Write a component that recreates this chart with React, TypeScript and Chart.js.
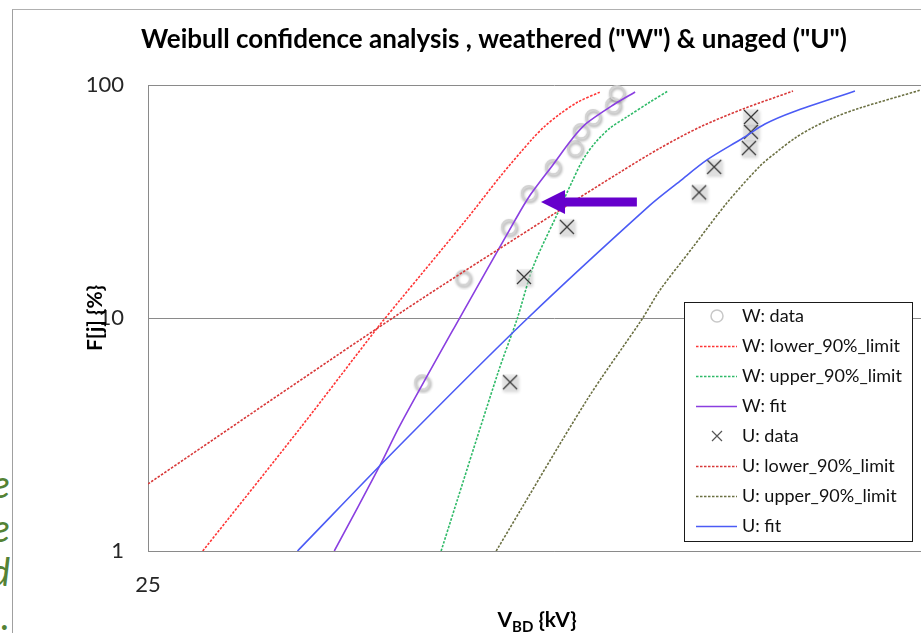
import React, { useEffect, useRef } from 'react';
import { Chart, registerables } from 'chart.js';

Chart.register(...registerables);

// ---------- text ----------
const TITLE = 'Weibull confidence analysis , weathered ("W") & unaged ("U")';
const Y_TITLE = 'F[j] {%}';
const X_TITLE_MAIN = 'V';
const X_TITLE_SUB = 'BD';
const X_TITLE_UNIT = ' {kV}';
const SIDE_TEXT = ['e', 'e', 'd', '.'];

// ---------- axes ----------
const X_MIN = 25;
const X_MAX = 250;
const Y_MIN = 1;
const Y_MAX = 100;
const X_TICKS = [25];
const Y_TICKS = [1, 10, 100];

// ---------- data (kV, %) ----------
const wDataX = [54.4, 61.1, 69.6, 73.6, 78.8, 83.9, 85.3, 88.3, 93.5, 94.5];
const wDataY = [5.3, 14.9, 24.6, 34.4, 44.5, 53.6, 63.5, 72.9, 82.1, 92.4];

const wLowerX = [29.2, 38.5, 47.9, 51.1, 61.9, 67.8, 74.5, 77.1, 80.4, 84.6, 90.1];
const wLowerY = [1, 3.37, 9.06, 11.95, 26.9, 40.3, 59.2, 66.7, 75.1, 84.5, 93.3];

const wUpperX = [57.4, 67.5, 71.2, 74.5, 79.7, 83.4, 85.8, 88.8, 92.7, 97.2, 103.8, 109.2];
const wUpperY = [1, 5.87, 9.9, 16.55, 27.7, 39.1, 47.7, 56.4, 65.4, 72.9, 84.5, 94.2];

const wFitX = [42.4, 48.3, 51.1, 60.4, 70.8, 73.9, 78.8, 83.4, 86.8, 93.5, 99.5];
const wFitY = [1, 2.34, 3.47, 9.9, 26.3, 33.7, 45.4, 59.2, 68.7, 82.1, 93.3];

const uDataX = [69.8, 72.6, 82.0, 119.3, 124.5, 137.4, 138.2, 138.2];
const uDataY = [5.3, 15.0, 24.6, 34.6, 44.5, 53.6, 63.0, 72.9];

const uLowerX = [25, 51.1, 79.7, 95.4, 106.8, 119.6, 135.1, 155.7];
const uLowerY = [1.94, 10.5, 28.5, 42.3, 53.6, 66.0, 78.9, 94.2];

const uUpperX = [67.1, 86.8, 101.5, 106.8, 117.3, 129.1, 141.8, 149.2, 156.6, 164.3, 175.5, 188.3, 223.8];
const uUpperY = [1, 4.45, 9.9, 13.19, 20.2, 31.2, 44.9, 52.1, 59.2, 65.4, 72.9, 79.7, 95.2];

const uFitX = [38.2, 51.1, 73.2, 103.8, 113.0, 122.0, 135.1, 143.8, 155.7, 185.6];
const uFitY = [1, 2.85, 9.9, 30.5, 38.7, 47.7, 59.2, 68.0, 76.6, 94.2];

// arrow annotation (data coordinates)
const ARROW_FROM = { x: 100.0, y: 31.5 };
const ARROW_TO = { x: 76.2, y: 31.5 };

// ---------- styles ----------
const FONT = 'Lato, "Open Sans", sans-serif';
const AXIS_COLOR = '#8a8a8a';
const TICK_COLOR = '#262626';

const toPts = (xs: number[], ys: number[]) => xs.map((x, i) => ({ x, y: ys[i] }));

function makeCircleMarker(): HTMLCanvasElement {
  const c = document.createElement('canvas');
  c.width = 24;
  c.height = 24;
  const g = c.getContext('2d')!;
  g.beginPath();
  g.arc(12, 12, 7.2, 0, Math.PI * 2);
  g.fillStyle = 'rgba(255,255,255,0.35)';
  g.fill();
  g.shadowColor = 'rgba(0,0,0,0.45)';
  g.shadowBlur = 3;
  g.shadowOffsetX = 1;
  g.shadowOffsetY = 2;
  g.lineWidth = 1.8;
  g.strokeStyle = '#d2d2d2';
  g.stroke();
  return c;
}

function makeCrossMarker(): HTMLCanvasElement {
  const c = document.createElement('canvas');
  c.width = 26;
  c.height = 26;
  const g = c.getContext('2d')!;
  g.save();
  g.shadowColor = 'rgba(0,0,0,0.3)';
  g.shadowBlur = 3;
  g.shadowOffsetX = 1;
  g.shadowOffsetY = 2;
  g.fillStyle = 'rgba(228,228,228,0.5)';
  g.fillRect(5, 5, 16, 16);
  g.restore();
  g.beginPath();
  g.moveTo(6, 6);
  g.lineTo(20, 20);
  g.moveTo(20, 6);
  g.lineTo(6, 20);
  g.lineWidth = 1.3;
  g.strokeStyle = '#3a3a3a';
  g.stroke();
  return c;
}

const overlayPlugin = {
  id: 'overlay',
  afterDatasetsDraw(chart: any) {
    const { ctx } = chart;
    const xs = chart.scales.x;
    const ys = chart.scales.y;
    const x0 = xs.getPixelForValue(ARROW_FROM.x);
    const y0 = ys.getPixelForValue(ARROW_FROM.y);
    const x1 = xs.getPixelForValue(ARROW_TO.x);
    const y1 = ys.getPixelForValue(ARROW_TO.y);
    const ang = Math.atan2(y1 - y0, x1 - x0);
    const len = Math.hypot(x1 - x0, y1 - y0);
    const headLen = 24;
    const headHalf = 12;
    const shaftHalf = 4.5;
    ctx.save();
    ctx.translate(x1, y1);
    ctx.rotate(ang);
    ctx.beginPath();
    ctx.moveTo(0, 0);
    ctx.lineTo(-headLen, -headHalf);
    ctx.lineTo(-headLen, -shaftHalf);
    ctx.lineTo(-len, -shaftHalf);
    ctx.lineTo(-len, shaftHalf);
    ctx.lineTo(-headLen, shaftHalf);
    ctx.lineTo(-headLen, headHalf);
    ctx.closePath();
    ctx.fillStyle = '#6600cc';
    ctx.fill();
    ctx.restore();
  },
  afterDraw(chart: any) {
    const { ctx, chartArea } = chart;
    ctx.save();
    // title
    ctx.fillStyle = '#000';
    ctx.font = `bold 26px ${FONT}`;
    ctx.textAlign = 'center';
    ctx.textBaseline = 'middle';
    ctx.fillText(TITLE, 481, 30);

    // y title
    ctx.save();
    ctx.translate(82, (chartArea.top + chartArea.bottom) / 2);
    ctx.rotate(-Math.PI / 2);
    ctx.font = `bold 21px ${FONT}`;
    ctx.textAlign = 'center';
    ctx.textBaseline = 'middle';
    ctx.fillText(Y_TITLE, 0, 0);
    ctx.restore();

    // x title with subscript
    const mainFont = `bold 21px ${FONT}`;
    const subFont = `bold 15px ${FONT}`;
    ctx.font = mainFont;
    const wV = ctx.measureText(X_TITLE_MAIN).width;
    const wU = ctx.measureText(X_TITLE_UNIT).width;
    ctx.font = subFont;
    const wS = ctx.measureText(X_TITLE_SUB).width;
    const total = wV + wS + wU;
    let x = 524 - total / 2;
    const base = 617;
    ctx.textAlign = 'left';
    ctx.textBaseline = 'alphabetic';
    ctx.font = mainFont;
    ctx.fillText(X_TITLE_MAIN, x, base);
    x += wV;
    ctx.font = subFont;
    ctx.fillText(X_TITLE_SUB, x, base + 5);
    x += wS;
    ctx.font = mainFont;
    ctx.fillText(X_TITLE_UNIT, x, base);

    // legend
    const L = { left: 671, top: 292, right: 899, bottom: 531, row0: 306, rowH: 30, l0: 683, l1: 724, mx: 704, tx: 729 };
    ctx.fillStyle = '#ffffff';
    ctx.fillRect(L.left, L.top, L.right - L.left, L.bottom - L.top);
    ctx.strokeStyle = '#1a1a1a';
    ctx.lineWidth = 1;
    ctx.strokeRect(L.left + 0.5, L.top + 0.5, L.right - L.left, L.bottom - L.top);
    chart.data.datasets.forEach((ds: any, i: number) => {
      const y = L.row0 + i * L.rowH;
      ctx.save();
      if (ds.legendKind === 'circle') {
        ctx.beginPath();
        ctx.arc(L.mx, y, 6, 0, Math.PI * 2);
        ctx.strokeStyle = '#c8c8c8';
        ctx.lineWidth = 1.5;
        ctx.stroke();
      } else if (ds.legendKind === 'cross') {
        ctx.beginPath();
        ctx.moveTo(L.mx - 5, y - 5);
        ctx.lineTo(L.mx + 5, y + 5);
        ctx.moveTo(L.mx + 5, y - 5);
        ctx.lineTo(L.mx - 5, y + 5);
        ctx.strokeStyle = '#555';
        ctx.lineWidth = 1.2;
        ctx.stroke();
      } else {
        ctx.beginPath();
        ctx.setLineDash(ds.borderDash || []);
        ctx.moveTo(L.l0, y + 0.5);
        ctx.lineTo(L.l1, y + 0.5);
        ctx.strokeStyle = ds.borderColor;
        ctx.lineWidth = ds.borderDash ? 1.3 : 1.6;
        ctx.stroke();
      }
      ctx.restore();
      ctx.font = `18px ${FONT}`;
      ctx.fillStyle = '#111';
      ctx.textAlign = 'left';
      ctx.textBaseline = 'middle';
      ctx.fillText(ds.label, L.tx, y);
    });
    ctx.restore();
  },
};

export default function App() {
  const ref = useRef<HTMLCanvasElement>(null);

  useEffect(() => {
    const circleImg = makeCircleMarker();
    const crossImg = makeCrossMarker();
    const dotted = [2.5, 1.5];
    const lineDs = (label: string, xs: number[], ys: number[], color: string, dash: number[] | undefined, order: number) => ({
      label,
      data: toPts(xs, ys),
      showLine: true,
      pointRadius: 0,
      borderColor: color,
      backgroundColor: color,
      borderWidth: 1.6,
      borderDash: dash,
      tension: 0.3,
      fill: false,
      order,
      legendKind: 'line',
    });
    const markDs = (label: string, xs: number[], ys: number[], img: HTMLCanvasElement, kind: string, order: number) => ({
      label,
      data: toPts(xs, ys),
      showLine: false,
      pointStyle: img,
      pointRadius: 8,
      order,
      legendKind: kind,
    });

    const datasets: any[] = [
      markDs('W: data', wDataX, wDataY, circleImg, 'circle', 8),
      lineDs('W: lower_90%_limit', wLowerX, wLowerY, '#ff3535', dotted, 7),
      lineDs('W: upper_90%_limit', wUpperX, wUpperY, '#2fba68', dotted, 6),
      lineDs('W: fit', wFitX, wFitY, '#8a3fe0', undefined, 5),
      markDs('U: data', uDataX, uDataY, crossImg, 'cross', 4),
      lineDs('U: lower_90%_limit', uLowerX, uLowerY, '#d83838', dotted, 3),
      lineDs('U: upper_90%_limit', uUpperX, uUpperY, '#6b7042', dotted, 2),
      lineDs('U: fit', uFitX, uFitY, '#4b5bf5', undefined, 1),
    ];

    const tickFont = { family: FONT, size: 22 };
    const chart = new Chart(ref.current!, {
      type: 'scatter',
      data: { datasets },
      options: {
        animation: false,
        responsive: true,
        maintainAspectRatio: false,
        layout: { padding: { left: 0, right: 28, top: 75, bottom: 0 } },
        plugins: {
          legend: { display: false },
          title: { display: false },
          tooltip: { enabled: false },
        },
        scales: {
          x: {
            type: 'logarithmic',
            min: X_MIN,
            max: X_MAX,
            afterFit: (s: any) => {
              s.height = 82;
            },
            afterBuildTicks: (s: any) => {
              s.ticks = X_TICKS.map((v) => ({ value: v }));
            },
            ticks: {
              callback: (v: any) => String(v),
              font: tickFont,
              color: TICK_COLOR,
              padding: 21,
              maxRotation: 0,
              autoSkip: false,
            },
            grid: { display: false, drawTicks: false },
            border: { display: true, color: AXIS_COLOR, width: 1 },
          },
          y: {
            type: 'logarithmic',
            min: Y_MIN,
            max: Y_MAX,
            afterFit: (s: any) => {
              s.width = 135;
            },
            afterBuildTicks: (s: any) => {
              s.ticks = Y_TICKS.map((v) => ({ value: v }));
            },
            ticks: {
              callback: (v: any) => String(v),
              font: tickFont,
              color: TICK_COLOR,
              padding: 24,
              autoSkip: false,
            },
            grid: { display: true, color: AXIS_COLOR, lineWidth: 1, drawTicks: false },
            border: { display: true, color: AXIS_COLOR, width: 1 },
          },
        },
      } as any,
      plugins: [overlayPlugin],
    });
    return () => chart.destroy();
  }, []);

  return (
    <div
      style={{
        position: 'fixed',
        left: 0,
        top: 0,
        width: 921,
        height: 633,
        overflow: 'hidden',
        background: '#ffffff',
      }}
    >
      <div
        style={{
          position: 'absolute',
          left: -40,
          top: 461,
          width: 50,
          textAlign: 'right',
          fontFamily: FONT,
          fontStyle: 'italic',
          fontSize: 38,
          lineHeight: '44px',
          color: '#548235',
          whiteSpace: 'pre',
        }}
      >
        {SIDE_TEXT.join('\n')}
      </div>
      <div
        style={{
          position: 'absolute',
          left: 12,
          top: 9,
          width: 1000,
          height: 700,
          borderLeft: '1px solid #a0a0a0',
          borderTop: '1px solid #b0b0b0',
        }}
      >
        <div style={{ position: 'absolute', left: 0, top: 0, width: 975, height: 623 }}>
          <canvas ref={ref} />
        </div>
      </div>
    </div>
  );
}
